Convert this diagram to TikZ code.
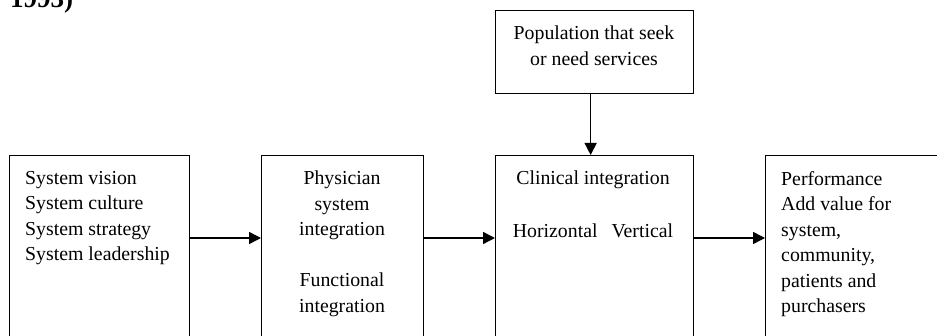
\documentclass[tikz,border=0pt]{standalone}
\usepackage{fontspec}
\setmainfont{Liberation Serif}
\usetikzlibrary{arrows.meta}
\begin{document}
\begin{tikzpicture}[x=1pt,y=1pt,
  box/.style={draw, line width=1.3pt, inner sep=0pt, anchor=north west},
  txt/.style={inner sep=0pt, font=\fontsize{19.8}{25.5}\selectfont},
  flow/.style={line width=1.4pt, -{Triangle[length=12pt,width=12pt]}}]
\useasboundingbox (0,0) rectangle (937,335);
\clip (0,0) rectangle (937,335);
% heading remnant at the top edge
\node[inner sep=0pt, anchor=base west, font=\fontsize{27}{30}\selectfont\bfseries] (yr) at (10,327.5) {1993)};
% boxes
\node[box, minimum width=180pt, minimum height=190pt] (b1) at (9,180) {};
\node[box, minimum width=162pt, minimum height=190pt] (b2) at (261,180) {};
\node[box, minimum width=198pt, minimum height=190pt] (b3) at (495,180) {};
\node[box, minimum width=200pt, minimum height=190pt] (b4) at (765,180) {};
\node[box, minimum width=198pt, minimum height=83pt] (pop) at (495,325) {};
% texts
\node[txt, align=left, anchor=north west] (t1) at (25,164) {System vision\\System culture\\System strategy\\System leadership};
\node[txt, align=center, anchor=north] (t2) at (342,164) {Physician\\system\\integration\\[25.5pt]Functional\\integration};
\node[txt, align=center, anchor=north] (t3) at (593,164) {Clinical integration\\[27pt]Horizontal\hspace{14pt}Vertical};
\node[txt, align=left, anchor=north west] (t4) at (781,164) {Performance\\Add value for\\system,\\community,\\patients and\\purchasers};
\node[txt, align=center, anchor=north] (t5) at (594,309) {Population that seek\\or need services};
% connectors
\draw[flow] ([yshift=-83pt]b1.north east) -- ([yshift=-83pt]b2.north west);
\draw[flow] ([yshift=-83pt]b2.north east) -- ([yshift=-83pt]b3.north west);
\draw[flow] ([yshift=-83pt]b3.north east) -- ([yshift=-83pt]b4.north west);
\draw[flow] ([xshift=-4pt]pop.south) -- ([xshift=-4pt]b3.north);
\end{tikzpicture}
\end{document}
